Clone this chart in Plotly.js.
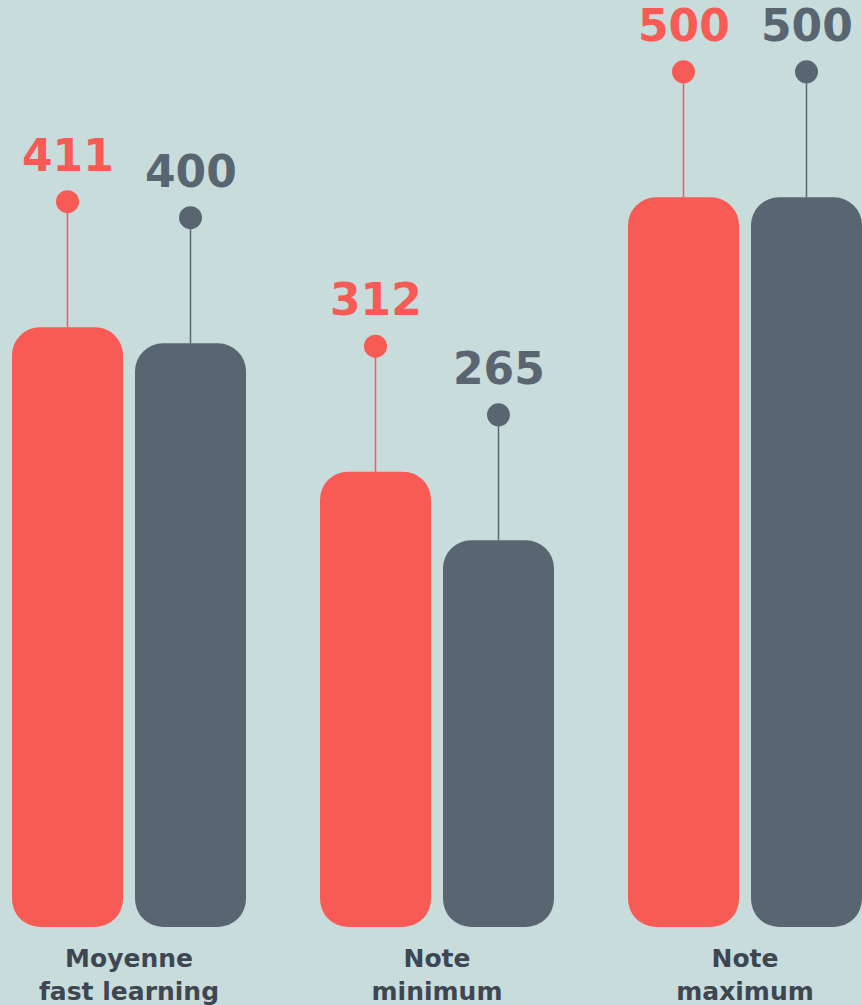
<!DOCTYPE html>
<html>
<head>
<meta charset="utf-8">
<script src="https://cdn.plot.ly/plotly-3.0.1.min.js"></script>
<style>
  html, body { margin: 0; padding: 0; background: #c7dcdb; }
  #chart { width: 862px; height: 1005px; }
</style>
</head>
<body>
<div id="chart"></div>
<script>
// ---- data ----
var categories = ['Moyenne<br>fast learning', 'Note<br>minimum', 'Note<br>maximum'];
var seriesA = [411, 312, 500];   // red series
var seriesB = [400, 265, 500];   // slate series

// ---- style ----
var RED = '#f85a55';
var SLATE = '#5a6572';
var BG = '#c7dcdb';
var BAR_W = 111 / 308;          // bar width in category units
var SHIFT = 61.5 / 308;         // bar centre distance from category centre
var PIN = 86;                   // stem length above bar top, in axis units
var RADIUS = 28;
var FLOAT = 0.01;               // tiny float off the baseline so both ends get rounded

var idx = categories.map(function (_, i) { return i; });

function bars(vals, color, center) {
  return {
    type: 'bar', x: idx, y: vals.map(function (v) { return v - FLOAT; }),
    base: vals.map(function () { return FLOAT; }),
    width: BAR_W, offset: center - BAR_W / 2,
    marker: { color: color, cornerradius: RADIUS, line: { width: 0 } },
    hoverinfo: 'skip', showlegend: false
  };
}

function stems(vals, color, shift) {
  var xs = [], ys = [];
  vals.forEach(function (v, i) {
    xs.push(i + shift, i + shift, null);
    ys.push(v, v + PIN, null);
  });
  return {
    type: 'scatter', mode: 'lines', x: xs, y: ys,
    line: { color: color, width: 1.5 }, hoverinfo: 'skip', showlegend: false
  };
}

function dots(vals, color, shift) {
  return {
    type: 'scatter', mode: 'markers',
    x: idx.map(function (i) { return i + shift; }),
    y: vals.map(function (v) { return v + PIN; }),
    marker: { color: color, size: 23 }, hoverinfo: 'skip', showlegend: false
  };
}

var data = [
  bars(seriesA, RED, -SHIFT), bars(seriesB, SLATE, SHIFT),
  stems(seriesA, RED, -SHIFT), stems(seriesB, SLATE, SHIFT),
  dots(seriesA, RED, -SHIFT), dots(seriesB, SLATE, SHIFT)
];

var annotations = [];
[[seriesA, RED, -SHIFT], [seriesB, SLATE, SHIFT]].forEach(function (s) {
  s[0].forEach(function (v, i) {
    annotations.push({
      x: i + s[2], y: v + PIN, xref: 'x', yref: 'y',
      text: String(v), showarrow: false,
      xanchor: 'center', yanchor: 'bottom', yshift: 19,
      font: { family: 'DejaVu Sans', size: 44, color: s[1], weight: 'bold' }
    });
  });
});

var layout = {
  width: 862, height: 1005,
  margin: { l: 0, r: 0, t: 0, b: 78, pad: 0 },
  paper_bgcolor: BG, plot_bgcolor: BG,
  barmode: 'overlay',
  showlegend: false,
  xaxis: {
    range: [-129 / 308, 733 / 308], tickvals: idx, ticktext: categories,
    showgrid: false, zeroline: false, showline: false, ticks: '',
    ticklabelstandoff: 14,
    automargin: false, fixedrange: true,
    tickfont: { family: 'DejaVu Sans', size: 25, color: '#3e4651', weight: 'bold' }
  },
  yaxis: {
    range: [0, 635.2], showgrid: false, zeroline: false, showline: false,
    showticklabels: false, ticks: '', automargin: false, fixedrange: true
  },
  annotations: annotations
};

Plotly.newPlot('chart', data, layout, { staticPlot: true, displayModeBar: false });
</script>
</body>
</html>
